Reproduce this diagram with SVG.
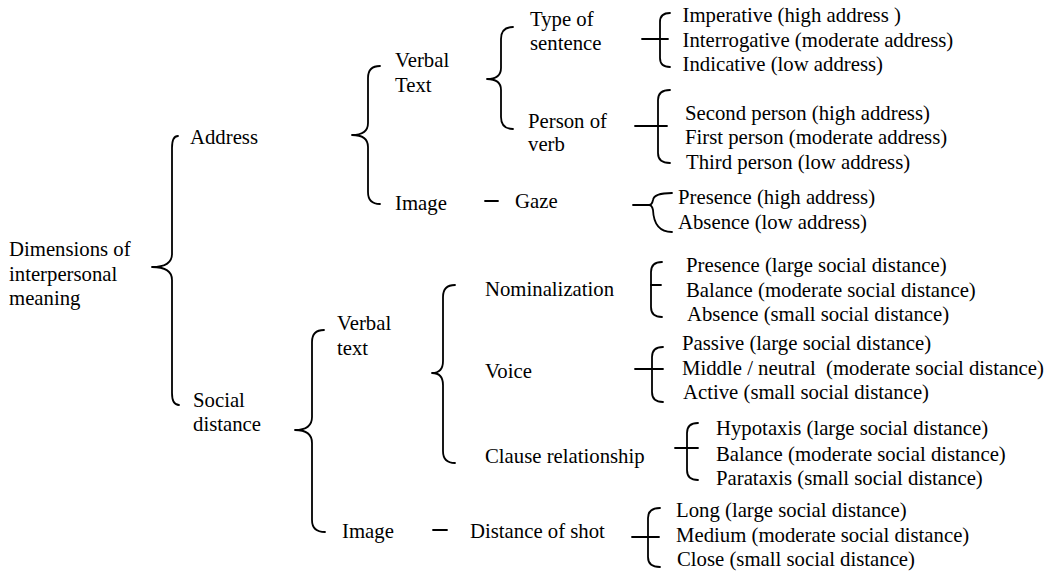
<svg xmlns="http://www.w3.org/2000/svg" width="1053" height="573" viewBox="0 0 1053 573">
<style>
text{font-family:"Liberation Serif","Times New Roman","DejaVu Serif",serif;font-size:20.75px;fill:#000}
.b{fill:none;stroke:#000;stroke-width:1.8;stroke-linecap:round;stroke-linejoin:round}
</style>
<rect width="1053" height="573" fill="#fff"/>
<g id="connectors">
<path class="b" d="M178,136 Q172,136 172,148 L172,254 Q172,267 152,267 Q172,267 172,280 L172,393 Q172,405 179,405"/>
<path class="b" d="M380,66 Q368,66 368,78 L368,123 Q368,135 352,135 Q368,135 368,147 L368,192 Q368,204 380,204"/>
<path class="b" d="M513,27 Q501,27 501,39 L501,68 Q501,79 487,79 Q501,79 501,90 L501,117 Q501,129 513,129"/>
<path class="b" d="M324,330 Q312,330 312,342 L312,417 Q312,430 295,430 Q312,430 312,443 L312,520 Q312,532 325,532"/>
<path class="b" d="M455,285 Q443,285 443,297 L443,361 Q443,373 432,373 Q443,373 443,385 L443,451 Q443,463 455,463"/>
<path class="b" d="M670,13 Q660,13 660,22 L660,58 Q660,67 670,67"/>
<line class="b" x1="642" y1="39" x2="668" y2="39"/>
<path class="b" d="M670,90 Q658,90 658,100 L658,153 Q658,163 670,163"/>
<line class="b" x1="635" y1="126" x2="667" y2="126"/>
<line class="b" x1="485" y1="201" x2="498" y2="201"/>
<path class="b" d="M672,193 Q654,193 653,200 Q652,205 649,205 Q652,205 653,210 Q654,232 672,232"/>
<line class="b" x1="633" y1="205" x2="649" y2="205"/>
<path class="b" d="M662,262 Q651,262 651,272 L651,307 Q651,317 662,317"/>
<line class="b" x1="651" y1="285" x2="661" y2="285"/>
<path class="b" d="M663,347 Q652,347 652,357 L652,392 Q652,402 663,402"/>
<line class="b" x1="635" y1="369" x2="663" y2="369"/>
<path class="b" d="M698,423 Q687,423 687,433 L687,470 Q687,480 698,480"/>
<line class="b" x1="675" y1="448" x2="698" y2="448"/>
<line class="b" x1="433" y1="530" x2="447" y2="530"/>
<path class="b" d="M660,508 Q648,508 648,518 L648,557 Q648,567 660,567"/>
<line class="b" x1="632" y1="537" x2="659" y2="537"/>
</g>
<g id="root"><text x="9" y="256">Dimensions of</text><text x="9" y="280.5">interpersonal</text><text x="9" y="305">meaning</text></g>
<g id="address"><text x="190" y="144">Address</text></g>
<g id="social-distance"><text x="193" y="407">Social</text><text x="193" y="431">distance</text></g>
<g id="address-verbal"><text x="395" y="67">Verbal</text><text x="395" y="92">Text</text></g>
<g id="address-image"><text x="395" y="210">Image</text></g>
<g id="type-of-sentence"><text x="530" y="26">Type of</text><text x="530" y="50">sentence</text></g>
<g id="person-of-verb"><text x="528" y="128">Person of</text><text x="528" y="151">verb</text></g>
<g id="gaze"><text x="515" y="208">Gaze</text></g>
<g id="type-values"><text x="682.5" y="22">Imperative (high address )</text><text x="682.5" y="46.5">Interrogative (moderate address)</text><text x="682.5" y="71">Indicative (low address)</text></g>
<g id="person-values"><text x="685" y="119.5">Second person (high address)</text><text x="685" y="144">First person (moderate address)</text><text x="686" y="168.5">Third person (low address)</text></g>
<g id="gaze-values"><text x="678" y="204">Presence (high address)</text><text x="678" y="228.5">Absence (low address)</text></g>
<g id="social-verbal"><text x="337" y="330">Verbal</text><text x="337" y="355">text</text></g>
<g id="social-image"><text x="342" y="538">Image</text></g>
<g id="nominalization"><text x="485" y="296">Nominalization</text></g>
<g id="voice"><text x="485" y="378">Voice</text></g>
<g id="clause-relationship"><text x="485" y="463">Clause relationship</text></g>
<g id="distance-of-shot"><text x="470" y="538">Distance of shot</text></g>
<g id="nominalization-values"><text x="686" y="272">Presence (large social distance)</text><text x="686" y="297">Balance (moderate social distance)</text><text x="687" y="321">Absence (small social distance)</text></g>
<g id="voice-values"><text x="682" y="350">Passive (large social distance)</text><text x="682" y="375" xml:space="preserve">Middle / neutral  (moderate social distance)</text><text x="683" y="399">Active (small social distance)</text></g>
<g id="clause-values"><text x="716" y="435">Hypotaxis (large social distance)</text><text x="716" y="460.5">Balance (moderate social distance)</text><text x="716" y="485">Parataxis (small social distance)</text></g>
<g id="shot-values"><text x="676" y="517">Long (large social distance)</text><text x="676" y="542">Medium (moderate social distance)</text><text x="677" y="565.5">Close (small social distance)</text></g>
</svg>
